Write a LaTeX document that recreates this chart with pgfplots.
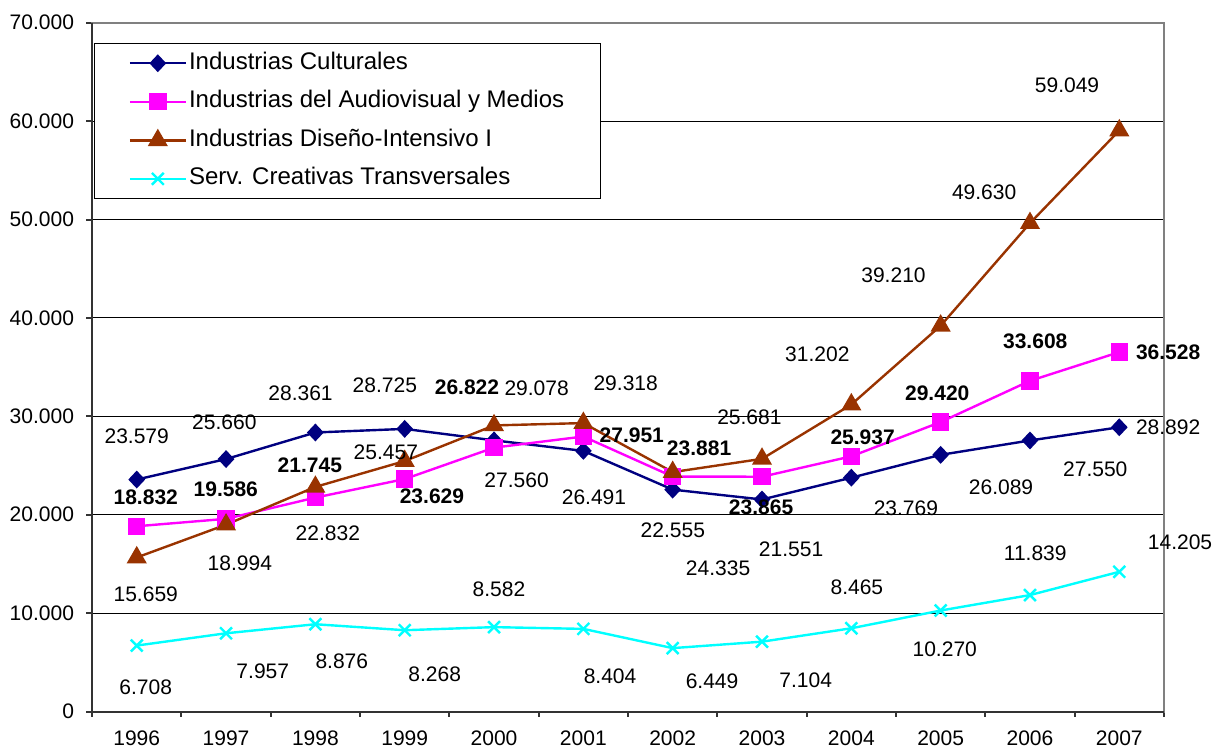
\documentclass[border=0pt]{standalone}
\usepackage{pgfplots}
\pgfplotsset{compat=1.18}
\usepackage{fontspec}
\setmainfont{Liberation Sans}
\definecolor{cnavy}{RGB}{0,0,128}
\definecolor{cmag}{RGB}{255,0,255}
\definecolor{cbrown}{RGB}{153,51,0}
\definecolor{ccyan}{RGB}{0,255,255}
\pgfplotsset{
  lbl/.style={forget plot, draw=none, mark=none,
    point meta=explicit symbolic, nodes near coords,
    nodes near coords style={anchor=center, inner sep=0pt, text=black,
      font=\fontsize{10.5bp}{12bp}\selectfont #1}},
}
\begin{document}
\begin{tikzpicture}[font=\fontsize{10.5bp}{12bp}\selectfont]
\begin{axis}[
  name=a, scale only axis, width=535.5bp, height=344.15bp,
  xmin=-0.5, xmax=11.5, ymin=0, ymax=70000,
  clip=false, scaled y ticks=false,
  xtick={0,1,2,3,4,5,6,7,8,9,10,11},
  xticklabels={1996,1997,1998,1999,2000,2001,2002,2003,2004,2005,2006,2007},
  ytick={0,10000,20000,30000,40000,50000,60000,70000},
  yticklabels={0,10.000,20.000,30.000,40.000,50.000,60.000,70.000},
  tick align=outside, tick pos=left,
  major tick length=3bp,
  minor xtick={-0.5,0.5,...,11.5}, minor tick length=2.5bp,
  major x tick style={draw=none},
  minor x tick style={draw=black!80, line width=1bp},
  ytick style={draw=black!80, line width=1bp},
  ymajorgrids, major grid style={black, line width=0.5bp},
  axis line style={draw=gray, line width=1bp},
  after end axis/.code={\draw[black!80, line width=1bp] (rel axis cs:0,1) -- (rel axis cs:0,0) -- (rel axis cs:1,0);},
  xticklabel style={yshift=-3bp},
  yticklabel style={xshift=-2.5bp},
  legend cell align=left,
  legend style={at={(axis description cs:0,1)}, anchor=north west, xshift=1bp, yshift=-10bp,
    draw=black, line width=0.5bp, inner xsep=17bp, inner ysep=2bp, row sep=3.25bp,
    font=\fontsize{12bp}{14bp}\selectfont,
    nodes={inner xsep=1bp, inner ysep=2bp, text height=9bp, text depth=3bp}},
  legend image code/.code={\draw[mark repeat=2,mark phase=2,#1] plot coordinates {(0bp,0bp) (14bp,0bp) (28bp,0bp)};},
]
\addplot[cnavy, line width=1.2bp, mark=diamond*, mark size=3.6bp, mark options={xscale=1.25}] coordinates {
 (0,23579) (1,25660) (2,28361) (3,28725) (4,27560) (5,26491) (6,22555) (7,21551) (8,23769) (9,26089) (10,27550) (11,28892)};
\addlegendentry{Industrias Culturales}
\addplot[cmag, line width=1.2bp, mark=square*, mark size=3.75bp] coordinates {
 (0,18832) (1,19586) (2,21745) (3,23629) (4,26822) (5,27951) (6,23881) (7,23865) (8,25937) (9,29420) (10,33608) (11,36528)};
\addlegendentry{Industrias del Audiovisual y Medios}
\addplot[cbrown, line width=1.2bp, mark=triangle*, mark size=4.6bp] coordinates {
 (0,15659) (1,18994) (2,22832) (3,25457) (4,29078) (5,29318) (6,24335) (7,25681) (8,31202) (9,39210) (10,49630) (11,59049)};
\addlegendentry{Industrias Diseño-Intensivo I}
\addplot[ccyan, line width=1.2bp, mark=x, mark size=4.2bp, mark options={line width=1.2bp}] coordinates {
 (0,6708) (1,7957) (2,8876) (3,8268) (4,8582) (5,8404) (6,6449) (7,7104) (8,8465) (9,10270) (10,11839) (11,14205)};
\addlegendentry{Serv. Creativas Transversales}
% data labels: Industrias Culturales
\addplot[lbl={}] coordinates {
 (0,27968) [23.579] (0.981,29422) [25.660] (1.834,32310) [28.361] (2.778,33154) [28.725]
 (4.253,23493) [27.560] (5.119,21794) [26.491] (6.002,18408) [22.555] (7.326,16445) [21.551]
 (8.611,20615) [23.769] (9.676,22811) [26.089] (10.731,24581) [27.550] (11.547,28913) [28.892]};
% Diseño-Intensivo
\addplot[lbl={}] coordinates {
 (0.101,11899) [15.659] (1.154,15021) [18.994] (2.140,18133) [22.832] (2.789,26371) [25.457]
 (4.477,32819) [29.078] (5.474,33327) [29.318] (6.508,14614) [24.335] (6.859,29869) [25.681]
 (7.620,36276) [31.202] (8.472,44341) [39.210] (9.487,52813) [49.630] (10.415,63664) [59.049]};
% Serv. Creativas
\addplot[lbl={}] coordinates {
 (0.101,2471) [6.708] (1.411,4068) [7.957] (2.296,5116) [8.876] (3.336,3763) [8.268]
 (4.055,12479) [8.582] (5.299,3560) [8.404] (6.441,3051) [6.449] (7.489,3224) [7.104]
 (8.062,12641) [8.465] (9.046,6377) [10.270] (10.059,16038) [11.839] (11.680,17218) [14.205]};
% Audiovisual (bold)
\addplot[lbl={\bfseries}] coordinates {
 (0.101,21794) [18.832] (0.997,22547) [19.586] (1.938,25018) [21.745] (3.305,21866) [23.629]
 (3.697,32981) [26.822] (5.542,28069) [27.951] (6.296,26717) [23.881] (6.990,20777) [23.865]
 (8.127,27835) [25.937] (8.962,32341) [29.420] (10.059,37660) [33.608] (11.547,36541) [36.528]};
\end{axis}
\pgfresetboundingbox
\path[use as bounding box] ([xshift=-46bp,yshift=-19bp]a.south west) rectangle ([xshift=26bp,yshift=11.35bp]a.north east);
\end{tikzpicture}
\end{document}
